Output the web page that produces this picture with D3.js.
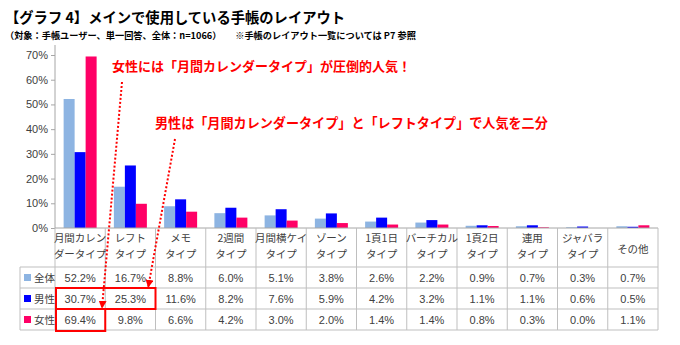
<!DOCTYPE html>
<html><head><meta charset="utf-8">
<script src="https://cdn.jsdelivr.net/npm/d3@7"></script>
<style>
body{margin:0;background:#fff;}
svg{display:block;font-family:"Noto Sans CJK JP","Noto Sans",sans-serif;}
</style></head>
<body>
<svg id="c" width="680" height="345"></svg>
<script>
const categories = [["月間カレン","ダータイプ"],["レフト","タイプ"],["メモ","タイプ"],["2週間","タイプ"],["月間横ケイ","タイプ"],["ゾーン","タイプ"],["1頁1日","タイプ"],["バーチカル","タイプ"],["1頁2日","タイプ"],["連用","タイプ"],["ジャバラ","タイプ"],["その他"]];
const seriesNames = ["全体","男性","女性"];
const allValues = [52.2,16.7,8.8,6.0,5.1,3.8,2.6,2.2,0.9,0.7,0.3,0.7];
const maleValues = [30.7,25.3,11.6,8.2,7.6,5.9,4.2,3.2,1.1,1.1,0.6,0.5];
const femaleValues = [69.4,9.8,6.6,4.2,3.0,2.0,1.4,1.4,0.8,0.3,0.0,1.1];
const yTicks = [0,10,20,30,40,50,60,70];
const colors = ["#8DB4E2","#0000FF","#FF0066"];
const title = "【グラフ 4】メインで使用している手帳のレイアウト";
const subtitle = "（対象：手帳ユーザー、単一回答、全体：n=1066）　　※手帳のレイアウト一覧については P7 参照";
const note1 = "女性には「月間カレンダータイプ」が圧倒的人気！";
const note2 = "男性は「月間カレンダータイプ」と「レフトタイプ」で人気を二分";

const series = [allValues, maleValues, femaleValues];
const svg = d3.select("#c");
const pLeft = 55, pRight = 658, pTop = 55, pBottom = 228;
const x = d3.scaleBand().domain(d3.range(categories.length)).range([pLeft, pRight]);
const y = d3.scaleLinear().domain([0,70]).range([pBottom, pTop]);
const inner = d3.scaleBand().domain(d3.range(3)).range([0, 33]);

// titles
svg.append("text").attr("x",5).attr("y",23).attr("font-size",14.3).attr("font-weight","bold").attr("fill","#000").text(title);
svg.append("text").attr("x",5).attr("y",39).attr("font-size",9.2).attr("font-weight","bold").attr("fill","#000").attr("xml:space","preserve").text(subtitle);

// y axis
const yAxis = d3.axisLeft(y).tickValues(yTicks).tickFormat(d=>d+"%").tickSize(4).tickSizeOuter(0);
const ga = svg.append("g").attr("transform",`translate(${pLeft},0)`).call(yAxis);
ga.select(".domain").attr("stroke","#A6A6A6").attr("d",`M0,${pTop-10}V${pBottom}`);
ga.selectAll(".tick line").attr("stroke","#A6A6A6");
ga.selectAll(".tick text").attr("font-size",11).attr("fill","#404040").attr("x",-7).attr("font-family","'Liberation Sans',Arial,sans-serif");

// bars
series.forEach((vals, s) => {
  svg.append("g").selectAll("rect").data(vals).join("rect")
    .attr("x",(d,i)=>x(i)+(x.bandwidth()-33)/2+inner(s))
    .attr("y",d=>y(d))
    .attr("width",inner.bandwidth())
    .attr("height",d=>pBottom-y(d))
    .attr("fill",colors[s]);
});

// table
const gridC = "#BFBFBF";
const rowH = [267, 288, 309, 330];
const tg = svg.append("g");
tg.append("line").attr("x1",pLeft).attr("x2",pRight).attr("y1",pBottom).attr("y2",pBottom).attr("stroke","#A6A6A6");
d3.range(categories.length+1).forEach(i=>{
  const xx = i<categories.length ? x(i) : pRight;
  tg.append("line").attr("x1",xx).attr("x2",xx).attr("y1",pBottom).attr("y2",rowH[3]).attr("stroke",gridC);
});
tg.append("line").attr("x1",20).attr("x2",20).attr("y1",rowH[0]).attr("y2",rowH[3]).attr("stroke",gridC);
rowH.forEach(yy=>{
  tg.append("line").attr("x1",20).attr("x2",pRight).attr("y1",yy).attr("y2",yy).attr("stroke",gridC);
});
categories.forEach((lines,i)=>{
  const cx = x(i)+x.bandwidth()/2;
  if(lines.length===1){
    tg.append("text").attr("x",cx).attr("y",248).attr("text-anchor","middle").attr("dominant-baseline","central").attr("font-size",10.5).attr("fill","#404040").text(lines[0]);
  } else {
    lines.forEach((l,j)=>{
      tg.append("text").attr("x",cx).attr("y",237+j*16.5).attr("text-anchor","middle").attr("dominant-baseline","central").attr("font-size",10.5).attr("fill","#404040").text(l);
    });
  }
});
series.forEach((vals,s)=>{
  const cy = (rowH[s]+rowH[s+1])/2;
  tg.append("rect").attr("x",24).attr("y",cy-3.5).attr("width",7).attr("height",7).attr("fill",colors[s]);
  tg.append("text").attr("x",34).attr("y",cy).attr("dominant-baseline","central").attr("font-size",10.5).attr("fill","#404040").text(seriesNames[s]);
  vals.forEach((v,i)=>{
    tg.append("text").attr("x",x(i)+x.bandwidth()/2).attr("y",cy).attr("text-anchor","middle").attr("dominant-baseline","central")
      .attr("font-size",11).attr("fill","#404040").attr("font-family","'Liberation Sans',Arial,sans-serif").text(v.toFixed(1)+"%");
  });
});

// annotations
const red = "#FF0000";
svg.append("text").attr("x",112).attr("y",65).attr("dominant-baseline","central").attr("font-size",13).attr("font-weight","bold").attr("fill",red).text(note1);
svg.append("text").attr("x",155).attr("y",122).attr("dominant-baseline","central").attr("font-size",13.1).attr("font-weight","bold").attr("fill",red).text(note2);

const defs = svg.append("defs");
defs.append("marker").attr("id","ah").attr("viewBox","0 0 10 10").attr("refX",9).attr("refY",5)
  .attr("markerWidth",4).attr("markerHeight",4).attr("orient","auto")
  .append("path").attr("d","M0,0L10,5L0,10z").attr("fill",red);

svg.append("rect").attr("x",x(0)+1).attr("y",rowH[1]).attr("width",x(2)-x(0)-1).attr("height",rowH[2]-rowH[1]).attr("fill","none").attr("stroke",red).attr("stroke-width",2);
svg.append("rect").attr("x",x(0)+1).attr("y",rowH[2]).attr("width",x(1)-x(0)-1).attr("height",rowH[3]-rowH[2]+1).attr("fill","none").attr("stroke",red).attr("stroke-width",2);

svg.append("line").attr("x1",122).attr("y1",82).attr("x2",x(0)+47).attr("y2",rowH[2]-1)
  .attr("stroke",red).attr("stroke-width",2).attr("stroke-dasharray","2,2").attr("marker-end","url(#ah)");
svg.append("line").attr("x1",175).attr("y1",139).attr("x2",x(1)+43).attr("y2",rowH[1]-1)
  .attr("stroke",red).attr("stroke-width",2).attr("stroke-dasharray","2,2").attr("marker-end","url(#ah)");
</script>
</body></html>
